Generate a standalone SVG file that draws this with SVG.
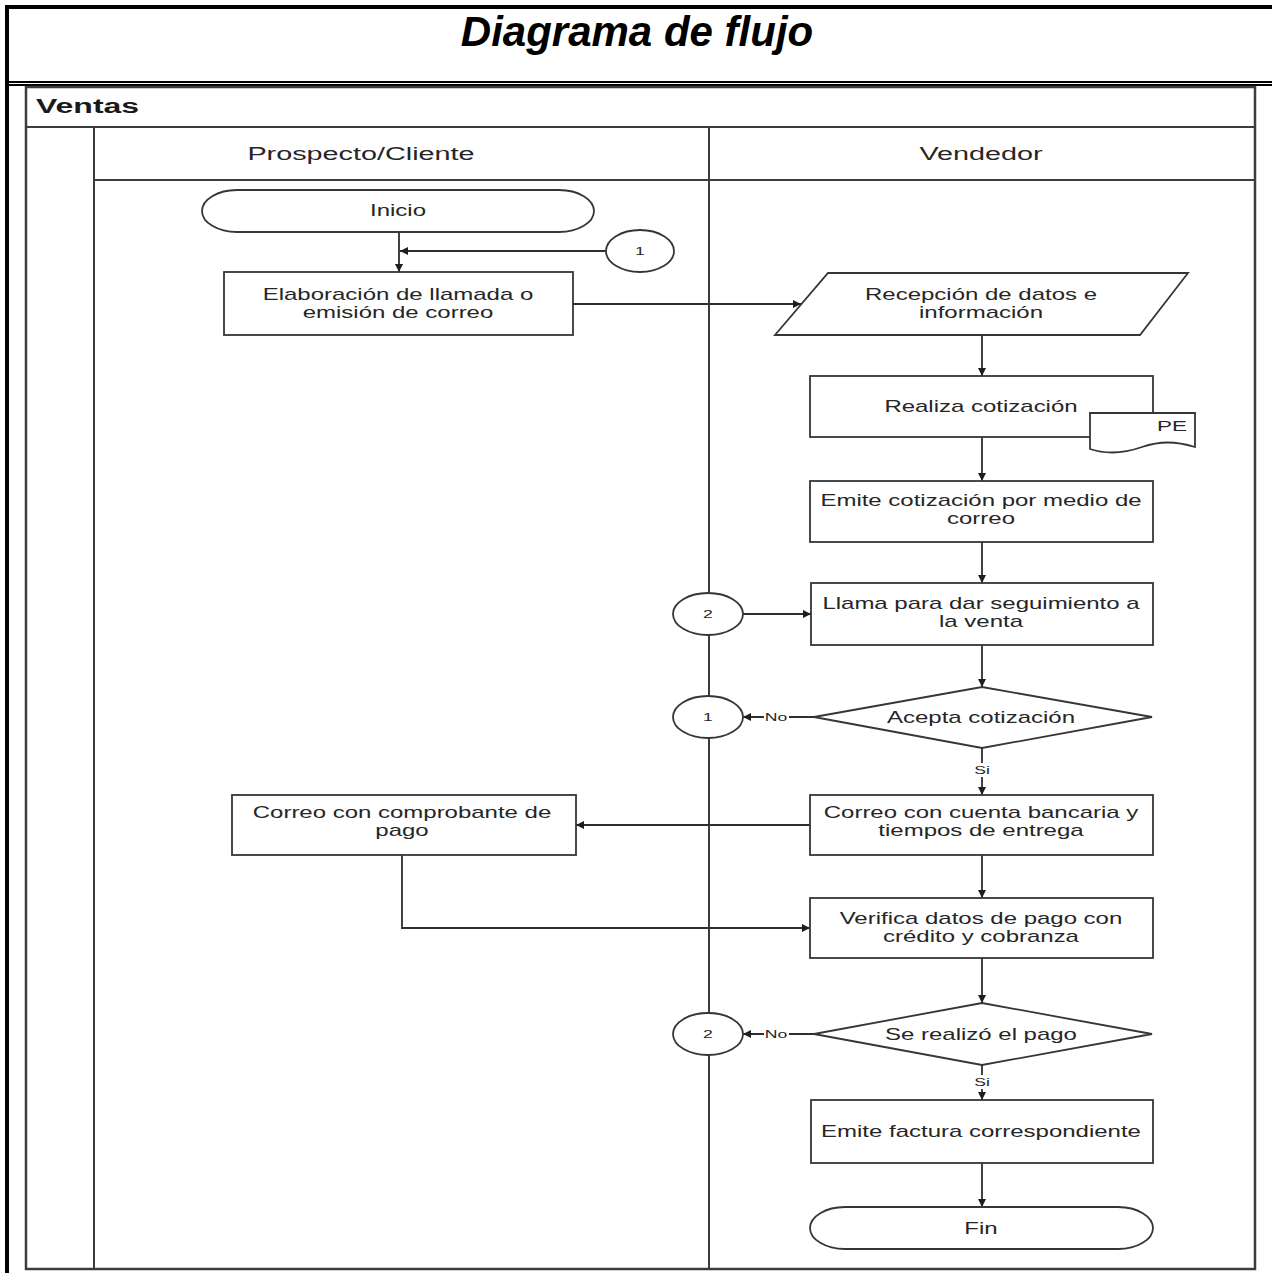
<svg xmlns="http://www.w3.org/2000/svg" width="1272" height="1273" viewBox="0 0 1272 1273">
  <defs>
    <style>
      .frame { fill: #000; }
      .pool { fill: none; stroke: #3c3c3c; stroke-width: 2.5; }
      .lane { fill: none; stroke: #3c3c3c; stroke-width: 2; }
      .shape { fill: #fff; stroke: #363636; stroke-width: 1.8; }
      .conn { fill: none; stroke: #2e2e2e; stroke-width: 1.8; }
      .t { font-family: "Liberation Sans", Arial, sans-serif; font-size: 16px; fill: #262626; text-anchor: middle; }
      .lbl { font-family: "Liberation Sans", Arial, sans-serif; font-size: 11px; fill: #262626; text-anchor: middle; }
      .hdr { font-family: "Liberation Sans", Arial, sans-serif; font-size: 18px; fill: #262626; text-anchor: middle; }
      .title { font-family: "Liberation Sans", Arial, sans-serif; font-size: 42px; font-weight: bold; font-style: italic; fill: #000; text-anchor: middle; }
      .pooltitle { font-family: "Liberation Sans", Arial, sans-serif; font-size: 20px; font-weight: bold; fill: #1a1a1a; }
    </style>
    <marker id="arrow" viewBox="0 0 10 10" refX="10" refY="5" markerWidth="10" markerHeight="8" markerUnits="userSpaceOnUse" orient="auto">
      <path d="M0,0 L10,5 L0,10 Z" fill="#1e1e1e"/>
    </marker>
  </defs>

  <rect width="1272" height="1273" fill="#fff"/>

  <!-- outer frame with title band -->
  <g id="frame">
    <rect class="frame" x="5" y="5" width="1267" height="4"/>
    <rect class="frame" x="5" y="5" width="4" height="1268"/>
    <rect class="frame" x="5" y="81" width="1267" height="2"/>
    <rect class="frame" x="9" y="84" width="1263" height="2"/>
    <text class="title" x="637" y="46">Diagrama de flujo</text>
  </g>

  <!-- swimlane pool -->
  <g id="pool">
    <rect class="pool" x="26" y="87" width="1229" height="1182"/>
    <line class="lane" x1="26" y1="127" x2="1255" y2="127"/>
    <line class="lane" x1="94" y1="127" x2="94" y2="1269"/>
    <line class="lane" x1="94" y1="180" x2="1255" y2="180"/>
    <line class="lane" x1="709" y1="127" x2="709" y2="1269"/>
    <text class="pooltitle" transform="matrix(1.6 0 0 1 36 0)" x="0" y="113">Ventas</text>
    <text class="hdr" transform="matrix(1.6 0 0 1 361 0)" x="0" y="160">Prospecto/Cliente</text>
    <text class="hdr" transform="matrix(1.6 0 0 1 981 0)" x="0" y="160">Vendedor</text>
  </g>

  <!-- connectors -->
  <g id="connectors">
    <line class="conn" x1="399" y1="232" x2="399" y2="272" marker-end="url(#arrow)"/>
    <line class="conn" x1="606" y1="251" x2="400" y2="251" marker-end="url(#arrow)"/>
    <line class="conn" x1="573" y1="304" x2="801" y2="304" marker-end="url(#arrow)"/>
    <line class="conn" x1="982" y1="335" x2="982" y2="376" marker-end="url(#arrow)"/>
    <line class="conn" x1="982" y1="437" x2="982" y2="481" marker-end="url(#arrow)"/>
    <line class="conn" x1="982" y1="542" x2="982" y2="583" marker-end="url(#arrow)"/>
    <line class="conn" x1="743" y1="614" x2="811" y2="614" marker-end="url(#arrow)"/>
    <line class="conn" x1="982" y1="645" x2="982" y2="687" marker-end="url(#arrow)"/>
    <line class="conn" x1="814" y1="717" x2="743" y2="717" marker-end="url(#arrow)"/>
    <line class="conn" x1="982" y1="748" x2="982" y2="795" marker-end="url(#arrow)"/>
    <line class="conn" x1="810" y1="825" x2="576" y2="825" marker-end="url(#arrow)"/>
    <line class="conn" x1="982" y1="855" x2="982" y2="898" marker-end="url(#arrow)"/>
    <polyline class="conn" points="402,855 402,928 810,928" marker-end="url(#arrow)"/>
    <line class="conn" x1="982" y1="958" x2="982" y2="1003" marker-end="url(#arrow)"/>
    <line class="conn" x1="814" y1="1034" x2="743" y2="1034" marker-end="url(#arrow)"/>
    <line class="conn" x1="982" y1="1065" x2="982" y2="1100" marker-end="url(#arrow)"/>
    <line class="conn" x1="982" y1="1163" x2="982" y2="1207" marker-end="url(#arrow)"/>
    <!-- branch labels -->
    <rect x="764" y="710" width="25" height="14" fill="#fff"/>
    <text class="lbl" transform="matrix(1.6 0 0 1 776 0)" x="0" y="721">No</text>
    <rect x="972" y="763" width="20" height="14" fill="#fff"/>
    <text class="lbl" transform="matrix(1.6 0 0 1 982 0)" x="0" y="774">Si</text>
    <rect x="764" y="1027" width="25" height="14" fill="#fff"/>
    <text class="lbl" transform="matrix(1.6 0 0 1 776 0)" x="0" y="1038">No</text>
    <rect x="972" y="1075" width="20" height="14" fill="#fff"/>
    <text class="lbl" transform="matrix(1.6 0 0 1 982 0)" x="0" y="1086">Si</text>
  </g>

  <!-- Prospecto/Cliente lane -->
  <g id="inicio">
    <rect class="shape" x="202" y="190" width="392" height="42" rx="35" ry="21"/>
    <text class="t" transform="matrix(1.5 0 0 1 398 0)" x="0" y="216">Inicio</text>
  </g>
  <g id="conector-1a">
    <ellipse class="shape" cx="640" cy="251" rx="34" ry="21"/>
    <text class="lbl" transform="matrix(1.6 0 0 1 640 0)" x="0" y="255">1</text>
  </g>
  <g id="elaboracion">
    <rect class="shape" x="224" y="272" width="349" height="63"/>
    <text class="t" transform="matrix(1.5 0 0 1 398 0)" x="0" y="300">Elaboración de llamada o</text>
    <text class="t" transform="matrix(1.5 0 0 1 398 0)" x="0" y="318">emisión de correo</text>
  </g>
  <g id="comprobante">
    <rect class="shape" x="232" y="795" width="344" height="60"/>
    <text class="t" transform="matrix(1.5 0 0 1 402 0)" x="0" y="818">Correo con comprobante de</text>
    <text class="t" transform="matrix(1.5 0 0 1 402 0)" x="0" y="836">pago</text>
  </g>

  <!-- Vendedor lane -->
  <g id="recepcion">
    <polygon class="shape" points="828,273 1188,273 1140,335 775,335"/>
    <text class="t" transform="matrix(1.5 0 0 1 981 0)" x="0" y="300">Recepción de datos e</text>
    <text class="t" transform="matrix(1.5 0 0 1 981 0)" x="0" y="318">información</text>
  </g>
  <g id="cotizacion">
    <rect class="shape" x="810" y="376" width="343" height="61"/>
    <text class="t" transform="matrix(1.5 0 0 1 981 0)" x="0" y="412">Realiza cotización</text>
    <path class="shape" d="M1090,413 H1195 V447 C1175,441 1160,441 1142,447 C1122,454 1105,454 1090,449 Z"/>
    <text class="t" transform="matrix(1.5 0 0 1 1172 0)" x="0" y="431" style="font-size:15px">PE</text>
  </g>
  <g id="emite-cotizacion">
    <rect class="shape" x="810" y="481" width="343" height="61"/>
    <text class="t" transform="matrix(1.5 0 0 1 981 0)" x="0" y="506">Emite cotización por medio de</text>
    <text class="t" transform="matrix(1.5 0 0 1 981 0)" x="0" y="524">correo</text>
  </g>
  <g id="conector-2a">
    <ellipse class="shape" cx="708" cy="614" rx="35" ry="21"/>
    <text class="lbl" transform="matrix(1.6 0 0 1 708 0)" x="0" y="618">2</text>
  </g>
  <g id="seguimiento">
    <rect class="shape" x="811" y="583" width="342" height="62"/>
    <text class="t" transform="matrix(1.5 0 0 1 981 0)" x="0" y="609">Llama para dar seguimiento a</text>
    <text class="t" transform="matrix(1.5 0 0 1 981 0)" x="0" y="627">la venta</text>
  </g>
  <g id="acepta">
    <polygon class="shape" points="982,687 1152,717 982,748 814,717"/>
    <text class="t" transform="matrix(1.5 0 0 1 981 0)" x="0" y="723">Acepta cotización</text>
  </g>
  <g id="conector-1b">
    <ellipse class="shape" cx="708" cy="717" rx="35" ry="21"/>
    <text class="lbl" transform="matrix(1.6 0 0 1 708 0)" x="0" y="721">1</text>
  </g>
  <g id="cuenta-bancaria">
    <rect class="shape" x="810" y="795" width="343" height="60"/>
    <text class="t" transform="matrix(1.5 0 0 1 981 0)" x="0" y="818">Correo con cuenta bancaria y</text>
    <text class="t" transform="matrix(1.5 0 0 1 981 0)" x="0" y="836">tiempos de entrega</text>
  </g>
  <g id="verifica">
    <rect class="shape" x="810" y="898" width="343" height="60"/>
    <text class="t" transform="matrix(1.5 0 0 1 981 0)" x="0" y="924">Verifica datos de pago con</text>
    <text class="t" transform="matrix(1.5 0 0 1 981 0)" x="0" y="942">crédito y cobranza</text>
  </g>
  <g id="pago">
    <polygon class="shape" points="982,1003 1152,1034 982,1065 814,1034"/>
    <text class="t" transform="matrix(1.5 0 0 1 981 0)" x="0" y="1040">Se realizó el pago</text>
  </g>
  <g id="conector-2b">
    <ellipse class="shape" cx="708" cy="1034" rx="35" ry="21"/>
    <text class="lbl" transform="matrix(1.6 0 0 1 708 0)" x="0" y="1038">2</text>
  </g>
  <g id="factura">
    <rect class="shape" x="811" y="1100" width="342" height="63"/>
    <text class="t" transform="matrix(1.5 0 0 1 981 0)" x="0" y="1137">Emite factura correspondiente</text>
  </g>
  <g id="fin">
    <rect class="shape" x="810" y="1207" width="343" height="42" rx="35" ry="21"/>
    <text class="t" transform="matrix(1.5 0 0 1 981 0)" x="0" y="1234">Fin</text>
  </g>
</svg>
